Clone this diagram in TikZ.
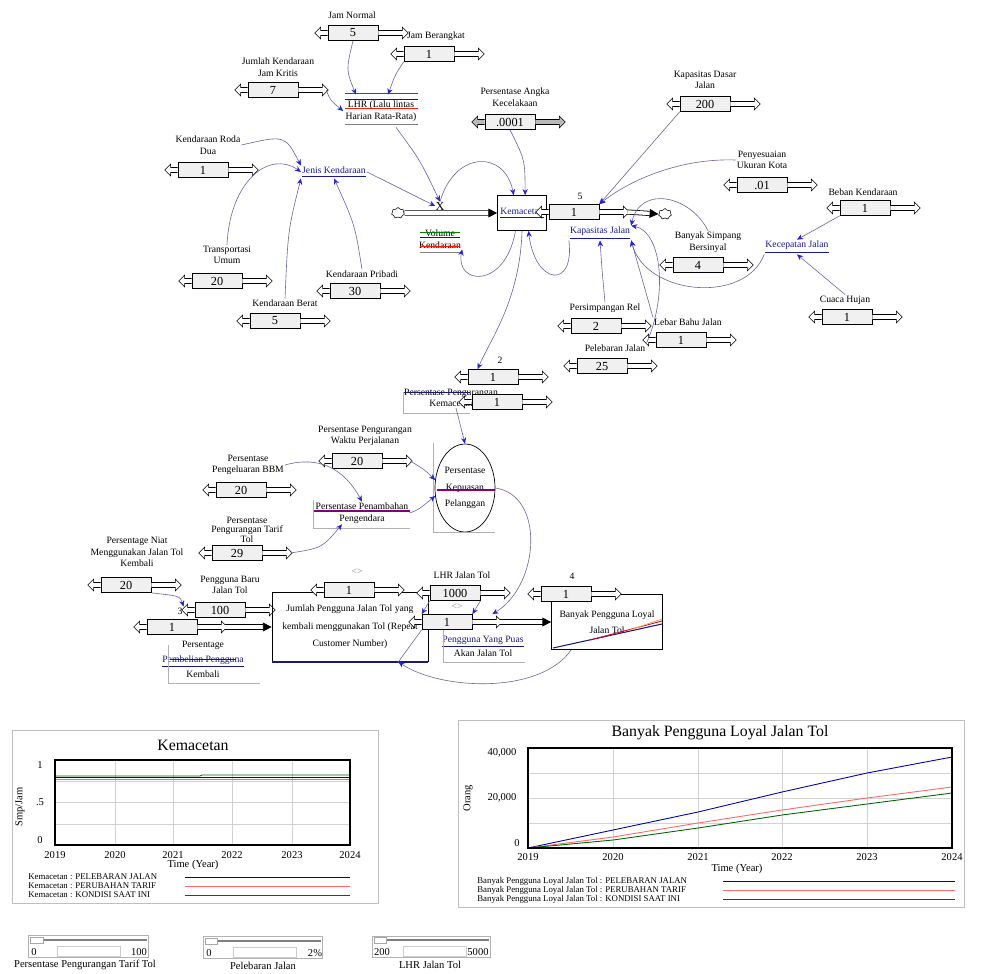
\documentclass[tikz,border=0pt]{standalone}
\usepackage{fontspec}
\setmainfont{Liberation Serif}
\usetikzlibrary{arrows.meta,shapes.geometric,shapes.symbols}

\definecolor{navy}{RGB}{25,25,120}
\definecolor{linkc}{RGB}{105,105,165}
\definecolor{tipc}{RGB}{35,35,210}
\definecolor{varc}{RGB}{25,25,150}

\tikzset{
  sbox/.style={draw, fill=gray!12, minimum width=10mm, minimum height=3mm, inner sep=0pt, font=\fontsize{7}{7}\selectfont},
  sarr/.style={draw, fill=white, line width=0.3pt},
  darr/.style={draw, fill=gray!55, line width=0.3pt},
  lbl/.style={font=\fontsize{5.5}{6.5}\selectfont, align=center, inner sep=0.5pt},
  var/.style={lbl, text=varc},
  stock/.style={draw, line width=0.4pt, align=center, inner sep=1pt, font=\fontsize{5.5}{6.5}\selectfont},
  link/.style={draw=linkc, line width=0.35pt, -{Stealth[length=3.5pt,width=3pt,color=tipc]}},
  pipe/.style={double, double distance=2pt, line width=0.45pt, -{Triangle[length=5pt,width=5pt]}},
  cloudn/.style={cloud, cloud puffs=7, draw, minimum width=2.6mm, minimum height=2.2mm, inner sep=0pt, line width=0.3pt},
  tick/.style={font=\fontsize{6}{6}\selectfont, inner sep=0.5pt},
  legend/.style={font=\fontsize{5}{5}\selectfont, anchor=west, inner sep=0pt},
  grid/.style={gray!35, line width=0.3pt},
}

% input box with its two hollow arrows
\newcommand{\slider}[4][sarr]{%
  \node[sbox] (#2) at (#3) {#4};
  \draw[#1] (#2.west) ++(0,2.5) -- ++(-7,0) -- ++(0,3.5) -- ++(-6,-6) -- ++(6,-6) -- ++(0,3.5) -- ++(7,0);
  \draw[#1] (#2.east) ++(0,2.5) -- ++(24,0) -- ++(0,3.5) -- ++(6,-6) -- ++(-6,-6) -- ++(0,3.5) -- ++(-24,0);
}

\begin{document}
\begin{tikzpicture}[x=0.02cm, y=-0.02cm]
\useasboundingbox (0,0) rectangle (989,973);

% LHR
\node[lbl] (jnL) at (352,15) {Jam Normal};
\slider{jn}{353,33}{5}
\node[lbl] (jbL) at (436,36) {Jam Berangkat};
\slider{jb}{429,54}{1}
\node[lbl] (jkL) at (278,67) {Jumlah Kendaraan\\Jam Kritis};
\slider{jk}{273,90}{7}
\node[lbl, minimum width=15mm, minimum height=6.4mm] (lhr) at (381,111) {LHR (Lalu lintas\\Harian Rata-Rata)};
\draw[green!50!black, line width=0.5pt] (345,93) -- (418,93);
\draw[navy, line width=0.5pt] (345,99) -- (418,99);
\draw[red!80!orange, line width=0.5pt] (345,108) -- (418,108);
\draw[gray, line width=0.3pt] (345,124) -- (418,124);
\draw[link] (jn.south) .. controls (346,70) .. ([xshift=-5mm]lhr.north);
\draw[link] (jb.south west) .. controls (395,75) .. ([xshift=1.4mm]lhr.north);
\draw[link] ([xshift=5.6mm]jk.east) .. controls (330,100) .. (lhr.west);

% jenis kendaraan
\node[lbl] (krL) at (208,145) {Kendaraan Roda\\Dua};
\slider{kr}{203,170}{1}
\node[lbl] (tuL) at (227,255) {Transportasi\\Umum};
\slider{tu}{217,281}{20}
\node[lbl] (kbL) at (285,303) {Kendaraan Berat};
\slider{kb}{275,321}{5}
\node[lbl] (kpL) at (362,274) {Kendaraan Pribadi};
\slider{kp}{355,291}{30}
\node[var] (jenis) at (334,172) {\underline{Jenis Kendaraan}};
\draw[link] (krL.east) .. controls (285,135) .. (jenis.north west);
\draw[link] (tuL.north) .. controls (230,180) and (270,150) .. (jenis.west);
\draw[link] (kbL.north) .. controls (288,230) .. (jenis.south west);
\draw[link] (kpL.north) .. controls (355,225) .. (jenis.south);

% kemacetan
\node[cloudn] (src) at (398,213) {};
\node[stock, minimum width=9.8mm, minimum height=7mm, text=varc] (kemac) at (522,213) {\underline{Kemacetan}};
\draw[pipe] (src.east) -- (kemac.west);
\node[font=\fontsize{7}{7}\selectfont, inner sep=0pt] (valve) at (440,206) {X};
\node[lbl] (vol) at (440,239) {Volume\\Kendaraan};
\draw[green!50!black, line width=0.5pt] (420,232) -- (460,232);
\draw[navy, line width=0.5pt] (420,237) -- (460,237);
\draw[red!80!orange, line width=0.5pt] (420,246) -- (460,246);
\draw[gray, line width=0.3pt] (420,252) -- (460,252);
\draw[link] ([xshift=3mm]lhr.south) .. controls (420,160) .. (valve.north);
\draw[link] (jenis.east) -- (valve.west);

\node[lbl] (pakL) at (515,97) {Persentase Angka\\Kecelakaan};
\slider[darr]{pak}{510,122}{.0001}
\draw[link] (pak.south) .. controls (525,160) .. (kemac.80);
\draw[link] (valve.north) .. controls (455,150) and (505,150) .. (kemac.115);
\draw[link] (kemac.250) .. controls (505,290) and (455,285) .. (vol.south east);

% kapasitas jalan
\node[cloudn] (snk) at (665,214) {};
\node[lbl] (k5) at (580,196) {5};
\slider{kem}{574,212}{1}
\draw[pipe] ([xshift=5.6mm]kem.east) -- (snk.west);
\node[var] (kapj) at (600,233) {\underline{Kapasitas Jalan}};
\draw[link] (kapj.south west) .. controls (575,290) and (535,285) .. (kemac.290);

\node[lbl] (kdL) at (705,80) {Kapasitas Dasar\\Jalan};
\slider{kd}{705,104}{200}
\node[lbl] (puL) at (762,160) {Penyesuaian\\Ukuran Kota};
\slider{pu}{762,185}{.01}
\node[lbl] (bsL) at (708,242) {Banyak Simpang\\Bersinyal};
\slider{bs}{698,265}{4}
\node[lbl] (prL) at (605,308) {Persimpangan Rel};
\slider{pr}{596,326}{2}
\node[lbl] (lbL) at (688,322) {Lebar Bahu Jalan};
\slider{lb}{681,340}{1}
\node[lbl] (pjL) at (615,348) {Pelebaran Jalan};
\slider{pj}{602,366}{25}
\draw[link] (kd.south west) -- (kem.north east);
\draw[link] (puL.west) .. controls (680,158) and (630,180) .. (kem.north east);
\draw[link] (bsL.north) .. controls (690,195) and (640,185) .. (kapj.north east);
\draw[link] (prL.north) .. controls (602,270) .. (kapj.south);
\draw[link] (lbL.north west) -- (kapj.south east);
\draw[link] (pjL.north east) .. controls (668,295) and (662,232) .. (kapj.north east);

\node[var] (kecj) at (797,247) {\underline{Kecepatan Jalan}};
\node[lbl] (bkL) at (863,192) {Beban Kendaraan};
\slider{bk}{865,208}{1}
\node[lbl] (chL) at (845,300) {Cuaca Hujan};
\slider{ch}{847,317}{1}
\draw[link] (bk.south west) -- (kecj.north);
\draw[link] (chL.north) -- (kecj.south);
\draw[link] (kecj.south west) .. controls (745,305) and (645,295) .. (kapj.south east);

% kepuasan pelanggan
\node[lbl] (ppk) at (451,398) {Persentase Pengurangan\\Kemacetan};
\draw[navy, line width=0.5pt] (403,392) -- (470,392);
\draw[gray!60, line width=0.3pt] (403,392) -- (403,413) -- (470,413);
\node[lbl] (pk2L) at (500,360) {2};
\slider{pk1}{493,377}{1}
\slider{pk2}{497,402}{1}
\draw[link] (kemac.south) .. controls (520,300) and (490,340) .. ([xshift=2mm]pk1.north west);

\node[ellipse, draw, line width=0.4pt, minimum width=12mm, minimum height=17.6mm, align=center, font=\fontsize{5.5}{9.5}\selectfont, inner sep=0pt] (kep) at (465,488) {Persentase\\Kepuasan\\Pelanggan};
\draw[violet, line width=0.6pt] (437,490) -- (495,490);
\draw[gray!60, line width=0.3pt] (433,443) -- (433,532) -- (495,532);
\draw[link] ([xshift=1mm]ppk.south) -- (kep.north);

\node[lbl] (pwL) at (365,436) {Persentase Pengurangan\\Waktu Perjalanan};
\slider{pw}{357,461}{20}
\node[lbl] (bbmL) at (248,465) {Persentase\\Pengeluaran BBM};
\slider{bbm}{241,490}{20}
\node[lbl] (ppp) at (362,513) {Persentase Penambahan\\Pengendara};
\draw[violet, line width=0.6pt] (313,511) -- (410,511);
\draw[gray!60, line width=0.3pt] (313,500) -- (313,528) -- (410,528);
\node[lbl, font=\fontsize{5.5}{5}\selectfont] (ptL) at (247,530) {Persentase\\Pengurangan Tarif\\Tol};
\slider{pt}{237,553}{29}
\draw[link] ([xshift=5.6mm]pw.east) .. controls (425,470) .. (kep.165);
\draw[link] (bbmL.east) .. controls (320,455) and (345,470) .. (ppp.north);
\draw[link] (ppp.east) .. controls (418,510) .. (kep.195);
\draw[link] ([xshift=5.6mm]pt.east) .. controls (322,548) .. ([xshift=-4mm]ppp.south);

% pengguna jalan tol
\node[lbl] (pnL) at (137,552) {Persentage Niat\\Menggunakan Jalan Tol\\Kembali};
\slider{pn}{126,585}{20}
\node[lbl] (pbL) at (230,585) {Pengguna Baru\\Jalan Tol};
\slider{pb}{220,610}{100}
\node[lbl] (rp3) at (180,611) {3};
\node[stock, minimum width=31.2mm, minimum height=13.8mm, font=\fontsize{5.5}{10}\selectfont] (jum) at (350,627) {Jumlah Pengguna Jalan Tol yang\\kembali menggunakan Tol (Repeat\\Customer Number)};
\draw[navy, line width=1.2pt] (jum.south west) -- (jum.south east);
\slider{rp}{172,627}{1}
\draw[pipe] ([xshift=5.6mm]rp.east) -- (jum.west);
\draw[link] (pn.south east) .. controls (180,596) .. (rp3.north east);
\node[lbl, font=\fontsize{5.5}{8.5}\selectfont] (pbkL) at (203,659) {Persentage\\\textcolor{navy}{\underline{Pembelian Pengguna}}\\Kembali};
\draw[navy, line width=0.5pt] (170,659) -- (236,659);
\draw[gray!60, line width=0.3pt] (168,645) -- (168,683) -- (260,683);

\node[lbl, text=gray] (jsm) at (357,572) {<>};
\slider{js}{349,590}{1}
\node[lbl] (ljL) at (462,575) {LHR Jalan Tol};
\slider{lj}{455,593}{1000}
\node[lbl, text=gray] (ljm) at (457,607) {<>};

\node[stock, minimum width=22.2mm, minimum height=11mm, font=\fontsize{5.5}{9}\selectfont] (loyal) at (607,622) {Banyak Pengguna Loyal\\Jalan Tol};
\draw[navy, line width=0.6pt] (553,648) -- (662,624);
\draw[red!70!violet, line width=0.5pt] (590,640) -- (662,621);
\draw[orange!70, line width=0.5pt] (630,630) -- (662,619);
\node[lbl] (ls4) at (572,576) {4};
\slider{ls}{566,594}{1}

\node[lbl] (pyp) at (483,646) {\textcolor{navy}{\underline{Pengguna Yang Puas}}\\Akan Jalan Tol};
\draw[gray!60, line width=0.3pt] (443,630) -- (443,662) -- (525,662);
\slider{fp}{447,622}{1}
\draw[pipe] ([xshift=5.6mm]fp.east) -- (loyal.west);
\draw[link] (lj.south west) -- (fp.north west);
\draw[link] (lj.south east) -- (fp.north east);
\draw[link] (kep.east) .. controls (545,495) and (540,585) .. ([xshift=4mm]fp.north east);
\draw[link] ([xshift=4mm]loyal.south west) .. controls (540,695) and (440,690) .. ([xshift=-6mm]jum.south east);
\draw[linkc, line width=0.35pt] (fp.south west) -- ([xshift=-6mm]jum.south east);

% chart Kemacetan
\draw[gray!50] (12,730) rectangle (378,903);
\node[font=\fontsize{9}{9}\selectfont] (c1t) at (193,745) {Kemacetan};
\foreach \x in {115,173,232,292} \draw[grid] (\x,760) -- (\x,845);
\foreach \y in {781,802,824} \draw[grid] (55,\y) -- (350,\y);
\draw[blue!70!black, line width=0.4pt] (55,777) -- (350,777);
\draw[red!60, line width=0.4pt] (55,779) -- (350,779);
\draw[green!40!black, line width=0.4pt] (55,776) -- (200,776) -- (202,775) -- (350,775);
\draw[line width=0.9pt] (55,760) rectangle (350,845);
\foreach \x/\yr in {55/2019,115/2020,173/2021,232/2022,292/2023,350/2024} \node[tick] (c1x\yr) at (\x,855) {\yr};
\node[tick] (c1xl) at (193,865) {Time (Year)};
\node[tick] (c1y1) at (40,765) {1};
\node[tick] (c1y2) at (40,802) {.5};
\node[tick] (c1y3) at (40,840) {0};
\node[tick, rotate=90] (c1yl) at (20,807) {Smp/Jam};
\node[legend] (c1l1) at (28,877) {Kemacetan : PELEBARAN JALAN};
\node[legend] (c1l2) at (28,886) {Kemacetan : PERUBAHAN TARIF};
\node[legend] (c1l3) at (28,895) {Kemacetan : KONDISI SAAT INI};
\draw[blue!70!black, line width=0.3pt] (185,877) -- (350,877);
\draw[red!60, line width=0.3pt] (185,886) -- (350,886);
\draw[green!40!black, line width=0.3pt] (185,895) -- (350,895);

% chart Banyak Pengguna Loyal
\draw[gray!50] (458,720) rectangle (964,907);
\node[font=\fontsize{9}{9}\selectfont] (c2t) at (720,733) {Banyak Pengguna Loyal Jalan Tol};
\foreach \x in {613,698,782,867} \draw[grid] (\x,748) -- (\x,848);
\foreach \y in {773,798,823} \draw[grid] (528,\y) -- (952,\y);
\draw[blue!70!black, line width=0.5pt] plot coordinates {(528,848) (613,830) (698,812) (782,792) (867,773) (952,757)};
\draw[red!60, line width=0.5pt] plot coordinates {(528,848) (613,837) (698,823) (782,810) (867,798) (952,787)};
\draw[green!40!black, line width=0.5pt] plot coordinates {(528,848) (613,840) (698,828) (782,815) (867,804) (952,793)};
\draw[line width=0.9pt] (528,748) rectangle (952,848);
\foreach \x/\yr in {528/2019,613/2020,698/2021,782/2022,867/2023,952/2024} \node[tick] (c2x\yr) at (\x,857) {\yr};
\node[tick] (c2xl) at (737,869) {Time (Year)};
\node[tick] (c2y1) at (502,753) {40,000};
\node[tick] (c2y2) at (502,798) {20,000};
\node[tick] (c2y3) at (517,843) {0};
\node[tick, rotate=90] (c2yl) at (468,798) {Orang};
\node[legend] (c2l1) at (477,881) {Banyak Pengguna Loyal Jalan Tol : PELEBARAN JALAN};
\node[legend] (c2l2) at (477,890) {Banyak Pengguna Loyal Jalan Tol : PERUBAHAN TARIF};
\node[legend] (c2l3) at (477,899) {Banyak Pengguna Loyal Jalan Tol : KONDISI SAAT INI};
\draw[blue!70!black, line width=0.3pt] (723,881) -- (955,881);
\draw[red!60, line width=0.3pt] (723,890) -- (955,890);
\draw[green!40!black, line width=0.3pt] (723,899) -- (955,899);

% sliders
\draw[gray!60] (28,935) rectangle (148,957);
\draw[gray, line width=1.5pt] (43,940) -- (147,940);
\draw[gray!70, fill=white] (30,937) rectangle (43,943);
\draw[gray!40] (57,946) rectangle (120,956);
\node[tick] (s1a) at (34,952) {0};
\node[tick] (s1b) at (139,952) {100};
\node[tick] (s1l) at (85,965) {Persentase Pengurangan Tarif Tol};

\draw[gray!60] (203,936) rectangle (322,958);
\draw[gray, line width=1.5pt] (217,941) -- (321,941);
\draw[gray!70, fill=white] (205,938) rectangle (217,944);
\draw[gray!40] (233,947) rectangle (296,957);
\node[tick] (s2a) at (209,953) {0};
\node[tick] (s2b) at (315,953) {2\%};
\node[tick] (s2l) at (263,966) {Pelebaran Jalan};

\draw[gray!60] (372,936) rectangle (490,957);
\draw[gray, line width=1.5pt] (386,940) -- (489,940);
\draw[gray!70, fill=white] (374,937) rectangle (386,943);
\draw[gray!40] (403,946) rectangle (466,956);
\node[tick] (s3a) at (382,952) {200};
\node[tick] (s3b) at (478,952) {5000};
\node[tick] (s3l) at (430,965) {LHR Jalan Tol};
\end{tikzpicture}
\end{document}
